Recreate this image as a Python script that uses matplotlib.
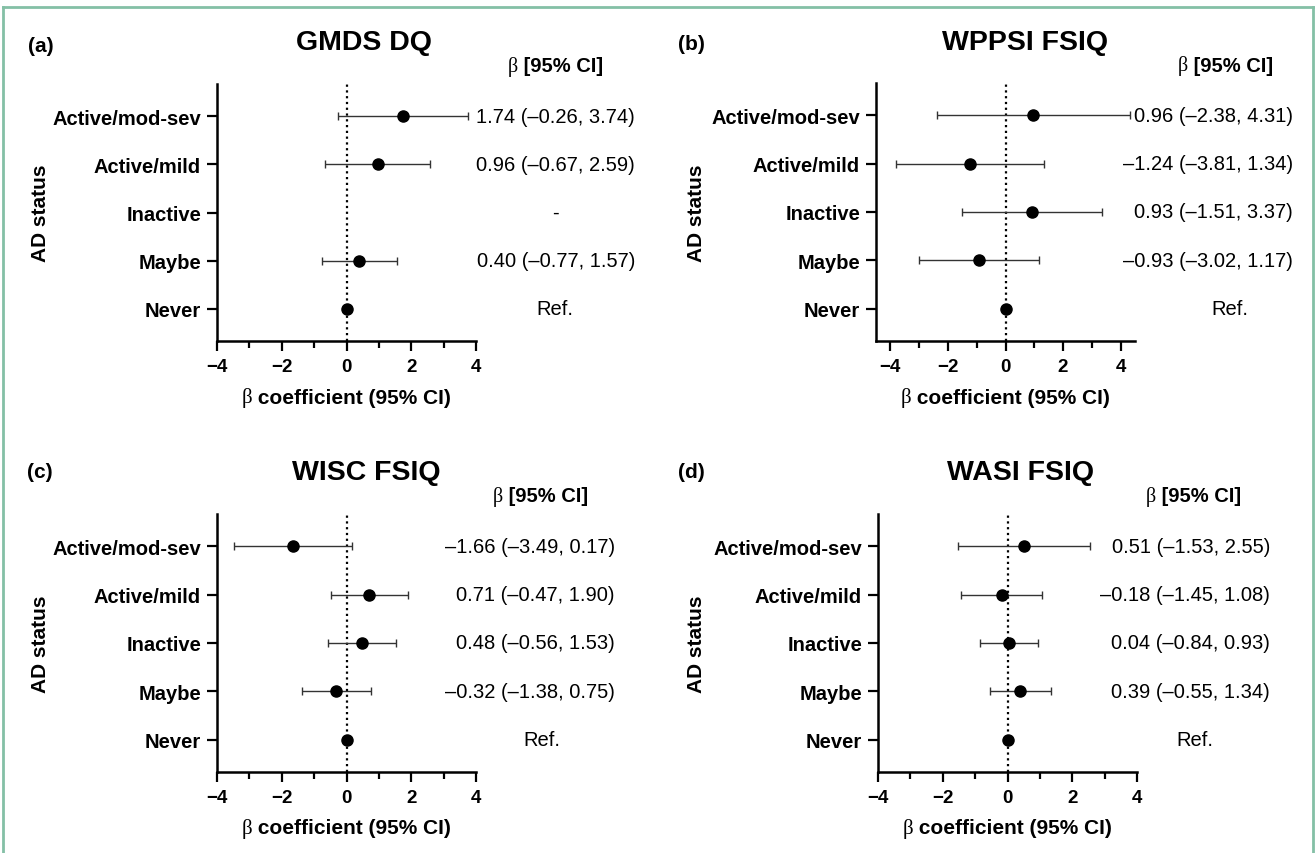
import numpy as np
import matplotlib
matplotlib.use("Agg")
import matplotlib.pyplot as plt
from matplotlib.lines import Line2D
from matplotlib.ticker import MultipleLocator
from matplotlib.transforms import blended_transform_factory

plt.rcParams['font.family'] = ['Liberation Sans', 'DejaVu Sans']

# data
rows = ['Active/mod-sev', 'Active/mild', 'Inactive', 'Maybe', 'Never']
titles = ['GMDS DQ', 'WPPSI FSIQ', 'WISC FSIQ', 'WASI FSIQ']
letters = ['(a)', '(b)', '(c)', '(d)']

gmds_beta = [1.74, 0.96, np.nan, 0.40, 0.0]
gmds_lo = [-0.26, -0.67, np.nan, -0.77, np.nan]
gmds_hi = [3.74, 2.59, np.nan, 1.57, np.nan]

wppsi_beta = [0.96, -1.24, 0.93, -0.93, 0.0]
wppsi_lo = [-2.38, -3.81, -1.51, -3.02, np.nan]
wppsi_hi = [4.31, 1.34, 3.37, 1.17, np.nan]

wisc_beta = [-1.66, 0.71, 0.48, -0.32, 0.0]
wisc_lo = [-3.49, -0.47, -0.56, -1.38, np.nan]
wisc_hi = [0.17, 1.90, 1.53, 0.75, np.nan]

wasi_beta = [0.51, -0.18, 0.04, 0.39, 0.0]
wasi_lo = [-1.53, -1.45, -0.84, -0.55, np.nan]
wasi_hi = [2.55, 1.08, 0.93, 1.34, np.nan]

series = [(gmds_beta, gmds_lo, gmds_hi), (wppsi_beta, wppsi_lo, wppsi_hi),
          (wisc_beta, wisc_lo, wisc_hi), (wasi_beta, wasi_lo, wasi_hi)]

# layout in pixels of the 1315x854 canvas
W, H = 1315, 854
layout = [
    dict(box=(217, 85, 476, 342), xlim=(-4, 4), title=(364, 43), letter=(28, 47),
         header=(555, 67), vright=635, ref=555, ylab=40),
    dict(box=(876, 84, 1135, 342), xlim=(-4.5, 4.5), title=(1025, 43), letter=(678, 45),
         header=(1225, 66), vright=1293, ref=1230, ylab=697),
    dict(box=(217, 515, 476, 773), xlim=(-4, 4), title=(366, 473), letter=(27, 473),
         header=(540, 497), vright=615, ref=542, ylab=40),
    dict(box=(878, 515, 1137, 773), xlim=(-4, 4), title=(1021, 473), letter=(678, 473),
         header=(1193, 497), vright=1270, ref=1195, ylab=697),
]


def fx(x):
    return x / W


def fy(y):
    return 1 - y / H


def fmt(v):
    return f"{v:.2f}".replace('-', '\u2013')


fig = plt.figure(figsize=(13.15, 8.54), dpi=100)
fig.canvas.draw()
renderer = fig.canvas.get_renderer()


def beta_text(xc, y, rest, size):
    # serif regular beta followed by bold text, centred on xc (pixels)
    b = fig.text(0, fy(y), '\u03b2', family='Liberation Serif', fontsize=size, va='center', ha='left')
    r = fig.text(0, fy(y), rest, fontweight='bold', fontsize=size, va='center', ha='left')
    wb = b.get_window_extent(renderer).width
    wr = r.get_window_extent(renderer).width
    x0 = xc - (wb + wr) / 2
    b.set_x(fx(x0))
    r.set_x(fx(x0 + wb))


ypos = np.arange(len(rows))[::-1]

for k, (lay, (beta, lo, hi)) in enumerate(zip(layout, series)):
    l, t, r, b = lay['box']
    ax = fig.add_axes([fx(l), fy(b), fx(r) - fx(l), fy(t) - fy(b)])
    beta = np.array(beta, dtype=float)
    lo = np.array(lo, dtype=float)
    hi = np.array(hi, dtype=float)

    ax.axvline(0, color='black', lw=1.6, ls=(0, (1, 1.6)), zorder=1)
    err = np.vstack([beta - lo, hi - beta])
    ax.errorbar(beta, ypos, xerr=err, fmt='none', ecolor='#333333', elinewidth=1.0,
                capsize=3, capthick=1.0, zorder=2)
    ax.plot(beta, ypos, 'o', color='black', ms=8, zorder=3)

    ax.set_xlim(*lay['xlim'])
    ax.set_ylim(-0.67, 4.67)
    ax.set_yticks(ypos)
    ax.set_yticklabels(rows, fontweight='bold', fontsize=14.5)
    ax.xaxis.set_major_locator(MultipleLocator(2))
    ax.xaxis.set_minor_locator(MultipleLocator(1))
    ax.set_xticks([-4, -2, 0, 2, 4])
    for lab in ax.get_xticklabels():
        lab.set_fontweight('bold')
        lab.set_fontsize(13.5)
    for side in ['top', 'right']:
        ax.spines[side].set_visible(False)
    for side in ['left', 'bottom']:
        ax.spines[side].set_linewidth(1.8)
    ax.tick_params(axis='both', which='major', length=7.5, width=1.6, pad=4)
    ax.tick_params(axis='x', which='major', pad=5)
    ax.tick_params(axis='x', which='minor', length=5, width=1.6)
    ax.set_facecolor('none')

    # right-hand column of estimates
    tr = blended_transform_factory(fig.transFigure, ax.transData)
    for i, y in enumerate(ypos):
        if rows[i] == 'Never':
            ax.text(fx(lay['ref']), y, 'Ref.', transform=tr, ha='center', va='center',
                    fontsize=14.5)
        elif np.isnan(beta[i]):
            ax.text(fx(lay['ref']), y, '-', transform=tr, ha='center', va='center',
                    fontsize=14.5)
        else:
            s = f"{fmt(beta[i])} ({fmt(lo[i])}, {fmt(hi[i])})"
            ax.text(fx(lay['vright']), y, s, transform=tr, ha='right', va='center',
                    fontsize=14.5)

    fig.text(fx(lay['title'][0]), fy(lay['title'][1]), titles[k], ha='center', va='center',
             fontsize=20.5, fontweight='bold')
    fig.text(fx(lay['letter'][0]), fy(lay['letter'][1]), letters[k], ha='left', va='center',
             fontsize=15, fontweight='bold')
    fig.text(fx(lay['ylab']), fy((t + b) / 2), 'AD status', rotation=90, ha='center',
             va='center', fontsize=15, fontweight='bold')
    beta_text(lay['header'][0], lay['header'][1], ' [95% CI]', 14.5)
    beta_text((l + r) / 2, b + 56, ' coefficient (95% CI)', 15)

# teal frame (top, left, right)
frame = dict(color='#84c0a6', lw=2.0, transform=fig.transFigure)
fig.add_artist(Line2D([fx(3), fx(1313)], [fy(8), fy(8)], **frame))
fig.add_artist(Line2D([fx(3), fx(3)], [fy(8), 0], **frame))
fig.add_artist(Line2D([fx(1313), fx(1313)], [fy(8), 0], **frame))

fig.savefig('out.png', dpi=100, facecolor='white')
